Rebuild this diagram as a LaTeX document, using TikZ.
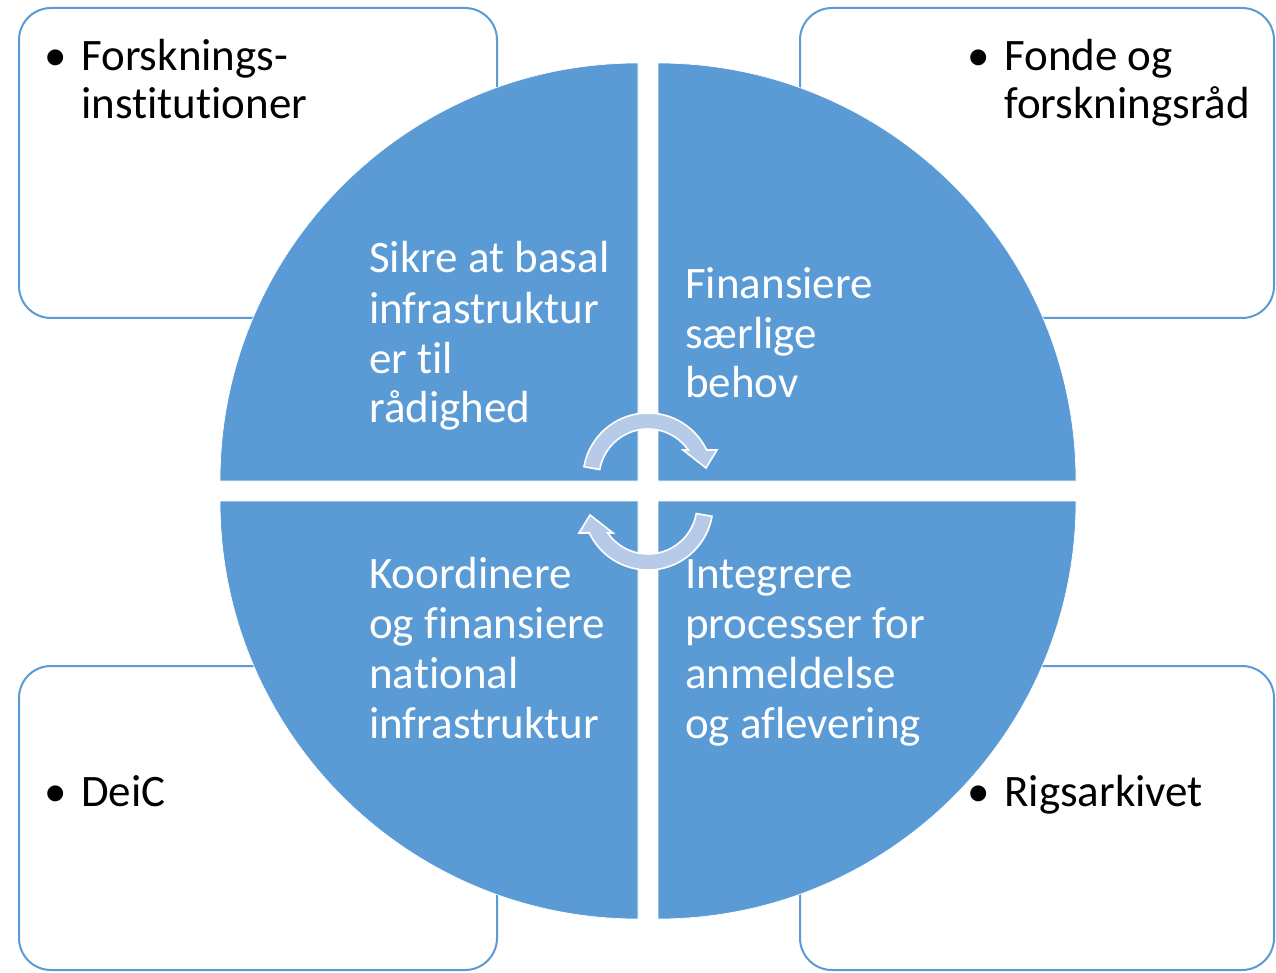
\documentclass[tikz,border=0pt]{standalone}
\usepackage{fontspec}
\setmainfont{Carlito}[Ligatures={NoCommon}]
\usetikzlibrary{calc}
\definecolor{qblue}{HTML}{5B9BD5}
\definecolor{arrowfill}{HTML}{B7CBE8}
\tikzset{
  outerbox/.style={draw=qblue, line width=1.5pt, fill=white, rounded corners=24pt},
  quad/.style={fill=qblue, draw=white, line width=0.5pt},
  cyclearrow/.style={fill=arrowfill, draw=white, line width=1.2pt, line join=miter},
  blacktext/.style={anchor=base west, inner sep=0pt, align=left, text=black,
    font=\fontsize{33.75pt}{36pt}\selectfont},
  whitetext/.style={anchor=base west, inner sep=0pt, align=left, text=white,
    font=\fontsize{33.75pt}{37.5pt}\selectfont},
}
\newcommand{\blt}{\makebox[27.75pt][l]{\textbullet}}
\newcommand{\bltsp}{\hspace*{27.75pt}}
\begin{document}
\begin{tikzpicture}[x=0.75pt,y=0.75pt]
\useasboundingbox (0,0) rectangle (1276,972);
% outer boxes
\path[outerbox] (19,654) rectangle (497,964);
\path[outerbox] (800,654) rectangle (1274,964);
\path[outerbox] (19,2) rectangle (497,306);
\path[outerbox] (800,2) rectangle (1274,306);
% quadrants
\path[quad] (638,491) -- ++(-418,0) arc[start angle=180, end angle=90, radius=418] -- cycle;
\path[quad] (658,491) -- ++(0,418) arc[start angle=90, end angle=0, radius=418] -- cycle;
\path[quad] (638,471) -- ++(0,-418) arc[start angle=270, end angle=180, radius=418] -- cycle;
\path[quad] (658,471) -- ++(418,0) arc[start angle=0, end angle=-90, radius=418] -- cycle;
% cycle arrows
\foreach \r in {0,180}{
  \begin{scope}[rotate around={\r:(648,480.5)}]
  \begin{scope}[shift={(648,494)}]
  \path[cyclearrow] (170:65) arc[start angle=170, end angle=25.5, radius=65]
     -- (69,28) -- (58,10) -- (35,28)
     -- (34.8:49) arc[start angle=34.8, end angle=170, radius=49] -- cycle;
  \end{scope}
  \end{scope}
}
% texts in the circle
\node[whitetext] (q1) at (369,549) {Sikre at basal\\infrastruktur\\er til\\rådighed};
\node[whitetext] (q2) at (685,574) {Finansiere\\særlige\\behov};
\node[whitetext] (q3) at (369,234) {Koordinere\\og finansiere\\national\\infrastruktur};
\node[whitetext] (q4) at (685,234) {Integrere\\processer for\\anmeldelse\\og aflevering};
% texts in the boxes
\node[blacktext] (b1) at (44,853) {\blt Forsknings-\\\bltsp institutioner};
\node[blacktext] (b2) at (967,853) {\blt Fonde og\\\bltsp forskningsråd};
\node[blacktext] (b3) at (44,166) {\blt DeiC};
\node[blacktext] (b4) at (967,166) {\blt Rigsarkivet};
\end{tikzpicture}
\end{document}
